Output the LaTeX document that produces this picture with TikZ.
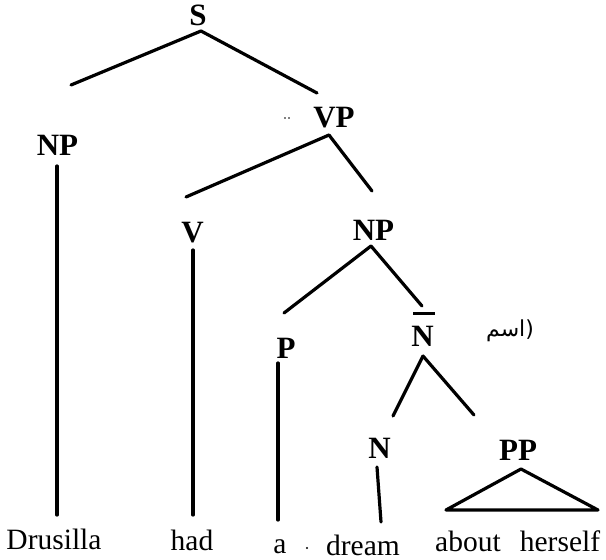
\documentclass[tikz,border=0pt]{standalone}
\usepackage{fontspec}
\setmainfont{Liberation Serif}
\newfontfamily\arabicfont[Script=Arabic]{DejaVu Sans}
\TeXXeTstate=1
\usetikzlibrary{calc}
\tikzset{
  lab/.style={font=\fontsize{31}{31}\selectfont\bfseries, inner sep=0pt, anchor=base},
  word/.style={font=\fontsize{29.5}{29.5}\selectfont, inner sep=0pt, anchor=base},
  branch/.style={line width=3.2pt, line cap=round, black},
  speck/.style={fill=black}
}
\begin{document}
\begin{tikzpicture}[x=1pt,y=-1pt]
\useasboundingbox (0,0) rectangle (606,560);
% labels
\node[lab] (S) at (198,25) {S};
\node[lab] (NP1) at (57.5,155) {NP};
\node[lab] (VP) at (334,127) {VP};
\node[lab] (V) at (192.5,242) {V};
\node[lab] (NP2) at (373.5,240) {NP};
\node[lab] (P) at (286,358) {P};
\node[lab] (Nbar) at (422.5,346) {\makebox[0pt][l]{\hspace{2pt}\raisebox{31.5pt}{\rule{22pt}{3pt}}}N};
\node[font=\fontsize{22}{22}\selectfont, inner sep=0pt] (ar) at (510,331) {\arabicfont\beginR(اسم\endR};
\node[lab] (N) at (379.5,458) {N};
\node[lab] (PP) at (518,460) {PP};
% words
\node[word] (w1) at (54,549) {Drusilla};
\node[word] (w2) at (192,550) {had};
\node[word] (w3) at (280,553) {a};
\node[word] (w4) at (363,555) {dream};
\node[word] (w5) at (468,551) {about};
\node[word] (w6) at (560,551) {herself};
% branches
\draw[branch] ($(S.base)+(3,6)$) -- ($(NP1.base)+(13.5,-70)$);
\draw[branch] ($(S.base)+(3,6)$) -- ($(VP.base)+(-17,-34)$);
\draw[branch] ($(VP.base)+(-5,8)$) -- ($(V.base)+(-6.5,-45)$);
\draw[branch] ($(VP.base)+(-5,8)$) -- ($(NP2.base)+(-1.5,-49)$);
\draw[branch] ($(NP2.base)+(-2.5,6)$) -- ($(P.base)+(-2,-45)$);
\draw[branch] ($(NP2.base)+(-2.5,6)$) -- ($(Nbar.base)+(-0.5,-40)$);
\draw[branch] ($(Nbar.base)+(0.5,10)$) -- ($(N.base)+(13.5,-42)$);
\draw[branch] ($(Nbar.base)+(0.5,10)$) -- ($(PP.base)+(-44,-45)$);
% verticals
\draw[branch] ($(NP1.base)+(-0.5,11)$) -- ($(w1.base)+(3,-34)$);
\draw[branch] ($(V.base)+(0.5,8)$) -- ($(w2.base)+(1,-35)$);
\draw[branch] ($(P.base)+(-8,5)$) -- ($(w3.base)+(-2,-33)$);
\draw[branch] ($(N.base)+(-2.5,9)$) -- ($(w4.base)+(18,-33)$);
% triangle
\draw[branch, line join=round] ($(PP.base)+(3,9)$) -- ($(PP.base)+(-72,50)$) -- ($(PP.base)+(80,50)$) -- cycle;
% specks
\fill[speck] (285,118) circle (0.8);
\fill[speck] (289,118) circle (0.8);
\fill[speck] (307,548) circle (1.1);
\end{tikzpicture}
\end{document}
